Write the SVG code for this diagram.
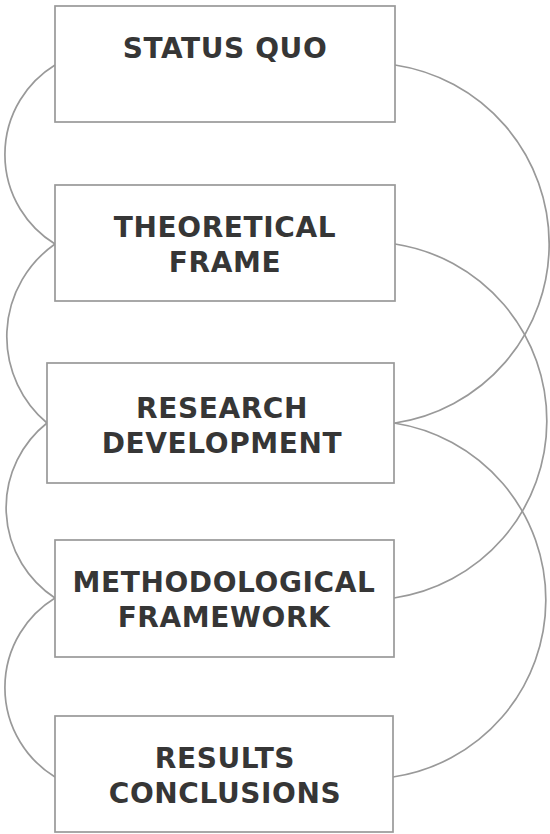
<svg xmlns="http://www.w3.org/2000/svg" width="550" height="834" viewBox="0 0 550 834">
<style>
.box{fill:#ffffff;stroke:#999999;stroke-width:1.7}
.lbl{font-family:"DejaVu Sans","Verdana",sans-serif;font-weight:bold;font-size:28px;letter-spacing:0.6px;fill:#363636;text-anchor:middle}
.con{fill:none;stroke:#999999;stroke-width:1.7}
</style>
<rect x="0" y="0" width="550" height="834" fill="#ffffff"/>
<g id="connectors">
<path class="con" d="M55,65 A105,105 0 0 0 55,244"/>
<path class="con" d="M55,244 A113,113 0 0 0 47,423"/>
<path class="con" d="M47,423 A108,108 0 0 0 55,598"/>
<path class="con" d="M55,598 A105,105 0 0 0 55,777"/>
<path class="con" d="M395,65 A181,181 0 0 1 395,423"/>
<path class="con" d="M395,244 A179,179 0 0 1 394,598"/>
<path class="con" d="M394,423 A179,179 0 0 1 393,777"/>
</g>
<g id="status-quo">
<rect class="box" x="55" y="6" width="340" height="116"/>
<text class="lbl" x="225" y="58">STATUS QUO</text>
</g>
<g id="theoretical-frame">
<rect class="box" x="55" y="185" width="340" height="116"/>
<text class="lbl" x="225" y="237">THEORETICAL</text>
<text class="lbl" x="225" y="272">FRAME</text>
</g>
<g id="research-development">
<rect class="box" x="47" y="363" width="347" height="120"/>
<text class="lbl" x="222" y="418">RESEARCH</text>
<text class="lbl" x="222" y="453">DEVELOPMENT</text>
</g>
<g id="methodological-framework">
<rect class="box" x="55" y="540" width="339" height="117"/>
<text class="lbl" x="224" y="592">METHODOLOGICAL</text>
<text class="lbl" x="224" y="627">FRAMEWORK</text>
</g>
<g id="results-conclusions">
<rect class="box" x="55" y="716" width="338" height="116"/>
<text class="lbl" x="225" y="768">RESULTS</text>
<text class="lbl" x="225" y="803">CONCLUSIONS</text>
</g>
</svg>
